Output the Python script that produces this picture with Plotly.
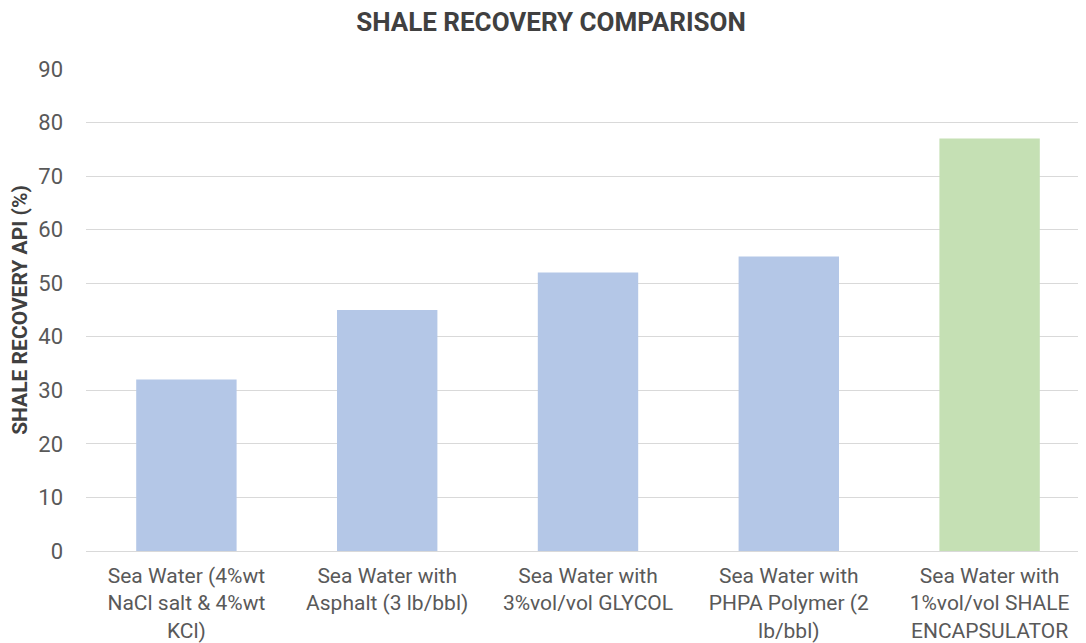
import plotly.graph_objects as go

categories = [
    "Sea Water (4%wt<br>NaCl salt & 4%wt<br>KCl)",
    "Sea Water with<br>Asphalt (3 lb/bbl)",
    "Sea Water with<br>3%vol/vol GLYCOL",
    "Sea Water with<br>PHPA Polymer (2<br>lb/bbl)",
    "Sea Water with<br>1%vol/vol SHALE<br>ENCAPSULATOR",
]
values = [32, 45, 52, 55, 77]
colors = ["#B4C7E7", "#B4C7E7", "#B4C7E7", "#B4C7E7", "#C5E0B4"]
y_ticks = [0, 10, 20, 30, 40, 50, 60, 70, 80, 90]

FONT = "Roboto, sans-serif"

fig = go.Figure(go.Bar(x=categories, y=values, marker=dict(color=colors, line=dict(width=0)), hoverinfo="skip"))

fig.update_layout(
    width=1086, height=643,
    margin=dict(l=78, r=4, t=61, b=100),
    paper_bgcolor="white", plot_bgcolor="white",
    bargap=0.5,
    showlegend=False,
    title=dict(text="<b>SHALE RECOVERY COMPARISON</b>", x=0.5, xanchor="center", y=0.978, yanchor="middle",
               font=dict(family=FONT, size=26, color="#404040")),
    font=dict(family=FONT, size=20, color="#595959"),
)
fig.update_xaxes(showgrid=False, showline=False, ticks="", ticklabelstandoff=10,
                 tickfont=dict(size=21, color="#595959"), automargin=False)
fig.update_yaxes(range=[0, 90], tickvals=y_ticks, showgrid=True, gridcolor="#D9D9D9", gridwidth=1.3,
                 zeroline=True, zerolinecolor="#D9D9D9", zerolinewidth=1.3,
                 ticks="", ticklabelstandoff=22, tickfont=dict(size=22, color="#595959"),
                 title=dict(text="<b>SHALE RECOVERY API (%)</b>", font=dict(size=21, color="#404040"), standoff=12),
                 automargin=False)
fig.write_html("out.html")
